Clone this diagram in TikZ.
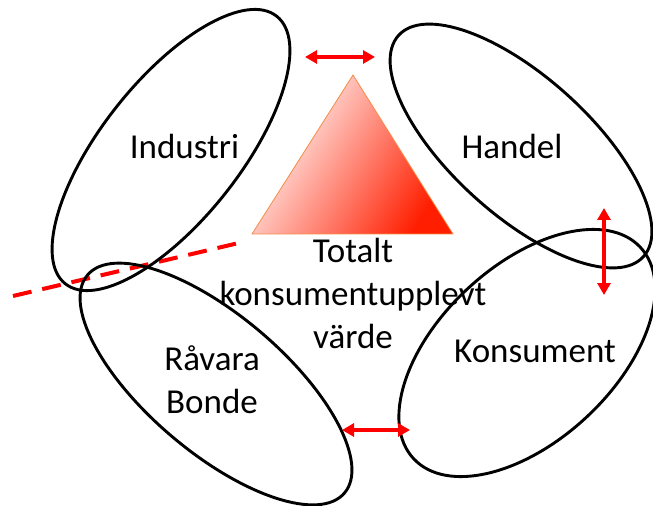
\documentclass[tikz,border=0pt]{standalone}
\usepackage{fontspec}
\setmainfont{Carlito}
\usetikzlibrary{shapes,arrows.meta,positioning,calc}

\definecolor{hotred}{RGB}{255,30,0}
\definecolor{edgeorange}{RGB}{245,140,70}

\begin{document}
\begin{tikzpicture}[
        x=1bp, y=-1bp,
        sector/.style={draw, ellipse, line width=2.9bp, inner sep=0pt},
        lbl/.style={font=\fontsize{35bp}{43bp}\selectfont, align=center, anchor=base, inner sep=0pt},
        flow/.style={red, line width=4bp, {Triangle[length=12bp,width=13bp]}-{Triangle[length=12bp,width=13bp]}}
    ]
    \useasboundingbox (0,0) rectangle (653,506);

    % value triangle
    \coordinate (apex) at (353,75);
    \coordinate (baseL) at (252,234);
    \coordinate (baseR) at (453,234);
    \shade[draw=edgeorange, line width=0.8bp, top color=white, middle color=red!12, bottom color=hotred, shading angle=58]
        (apex) -- (baseL) -- (baseR) -- cycle;

    % boundary line
    \coordinate (cutA) at (13,296);
    \coordinate (cutB) at (243,242);
    \draw[red, line width=4bp, dash pattern=on 19bp off 11bp] (cutA) -- (cutB);

    % the four actors
    \node[sector, minimum width=341bp, minimum height=139bp, rotate=51.7] (industri) at (171,150) {};
    \node[sector, minimum width=330bp, minimum height=138bp, rotate=-42.1] (handel) at (521,146) {};
    \node[sector, minimum width=310bp, minimum height=175bp, rotate=43] (konsument) at (527,353) {};
    \node[sector, minimum width=337bp, minimum height=137bp, rotate=-40.3] (ravara) at (216,384) {};

    % links between actors
    \coordinate (ih1) at (305,57);
    \coordinate (ih2) at (375,57);
    \draw[flow] (ih1) -- (ih2);
    \coordinate (hk1) at (604,208);
    \coordinate (hk2) at (604,295);
    \draw[flow] (hk1) -- (hk2);
    \coordinate (rk1) at (342,430);
    \coordinate (rk2) at (410,430);
    \draw[flow] (rk1) -- (rk2);

    % labels
    \node[lbl] (industri-txt) at (184.5,159) {Industri};
    \node[lbl] (handel-txt) at (512,159) {Handel};
    \node[lbl] (konsument-txt) at (535,362) {Konsument};
    \node[lbl] (ravara-txt) at (212,413) {Råvara\\Bonde};
    \node[lbl] (varde-txt) at (353,348) {Totalt\\konsumentupplevt\\värde};
\end{tikzpicture}
\end{document}
